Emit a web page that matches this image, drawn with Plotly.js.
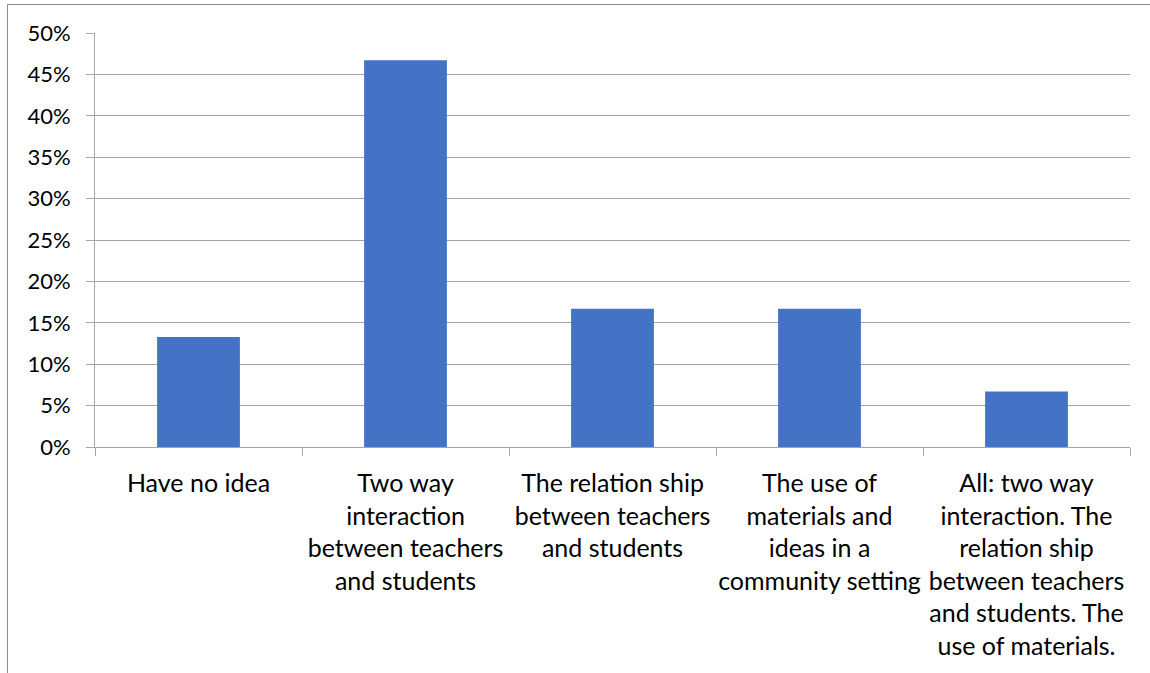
<!DOCTYPE html>
<html>
<head>
<meta charset="utf-8">
<script src="https://cdn.plot.ly/plotly-3.0.1.min.js"></script>
<style>
html,body{margin:0;padding:0;background:#fff;}
#wrap{position:relative;width:1150px;height:673px;overflow:hidden;}
#chart{position:absolute;left:0;top:0;width:1150px;height:673px;}
#frame{position:absolute;left:7px;top:4px;width:1200px;height:700px;border-left:1px solid #8c8c8c;border-top:1px solid #8c8c8c;pointer-events:none;}
</style>
</head>
<body>
<div id="wrap"><div id="chart"></div><div id="frame"></div></div>
<script>
const categories = [
  "Have no idea",
  "Two way<br>interaction<br>between teachers<br>and students",
  "The relation ship<br>between teachers<br>and students",
  "The use of<br>materials and<br>ideas in a<br>community setting",
  "All: two way<br>interaction. The<br>relation ship<br>between teachers<br>and students. The<br>use of materials."
];
const values = [0.133, 0.467, 0.167, 0.167, 0.067];
const yTickVals = [0, 0.05, 0.10, 0.15, 0.20, 0.25, 0.30, 0.35, 0.40, 0.45, 0.50];
const yTickText = ["0%", "5%", "10%", "15%", "20%", "25%", "30%", "35%", "40%", "45%", "50%"];

const fam = "Lato, 'Open Sans', sans-serif";

Plotly.newPlot("chart", [{
  type: "bar",
  x: categories,
  y: values,
  marker: {color: "#4472C4"},
  hoverinfo: "none"
}], {
  width: 1150, height: 673,
  margin: {l: 95, r: 20, t: 33, b: 226, pad: 0},
  paper_bgcolor: "#fff", plot_bgcolor: "#fff",
  bargap: 0.6,
  showlegend: false,
  font: {family: fam, size: 22, color: "#000"},
  xaxis: {
    type: "category",
    showline: true, linecolor: "#a6a6a6", linewidth: 1,
    ticks: "outside", tickson: "boundaries", ticklen: 8, tickcolor: "#a6a6a6",
    showgrid: false, tickangle: 0,
    tickfont: {family: fam, size: 25, color: "#000"}, ticklabelstandoff: 14
  },
  yaxis: {
    range: [0, 0.5],
    tickvals: yTickVals, ticktext: yTickText,
    showline: true, linecolor: "#a6a6a6", linewidth: 1,
    ticks: "outside", ticklen: 8, tickcolor: "#a6a6a6",
    showgrid: true, gridcolor: "#a6a6a6", gridwidth: 1,
    zeroline: false, tickfont: {family: fam, size: 22, color: "#000"}, ticklabelstandoff: 11
  }
}, {displayModeBar: false, staticPlot: true});
</script>
</body>
</html>
